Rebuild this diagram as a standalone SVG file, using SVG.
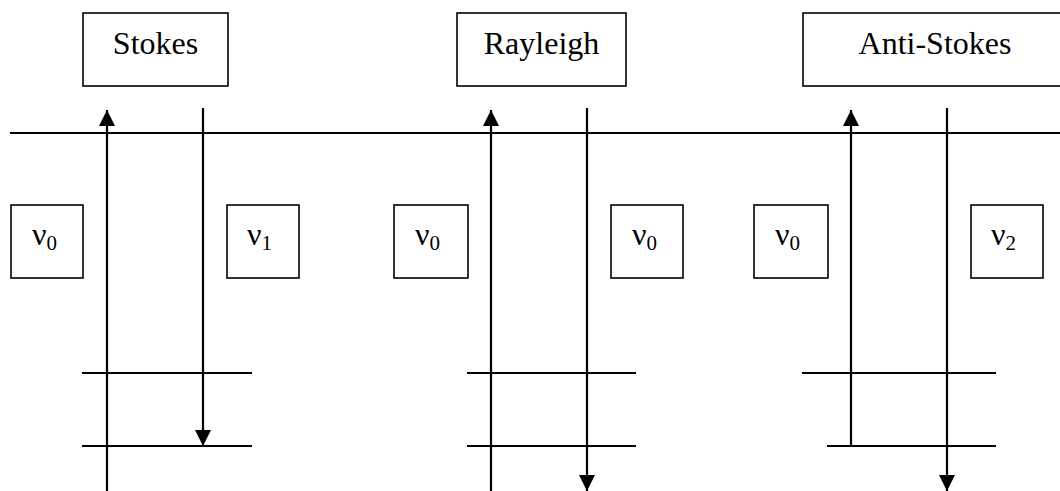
<svg xmlns="http://www.w3.org/2000/svg" width="1060" height="491" viewBox="0 0 1060 491">
  <style>
    .box { fill: #fff; stroke: #000; stroke-width: 1.6; }
    .title { font-family: "Liberation Serif", "Times New Roman", serif; font-size: 32px; fill: #000; text-anchor: middle; }
    .freq { font-family: "Liberation Serif", "Times New Roman", serif; font-size: 32px; fill: #000; }
    .sub { font-size: 21px; }
    .level { stroke: #000; stroke-width: 1.8; fill: none; }
    .ray { stroke: #000; stroke-width: 2.2; fill: none; }
  </style>
  <defs>
    <marker id="head" viewBox="0 0 16 16" refX="16" refY="8" markerWidth="16" markerHeight="16" markerUnits="userSpaceOnUse" orient="auto">
      <path d="M0,0 L16,8 L0,16 Z" fill="#000"/>
    </marker>
  </defs>

  <rect width="1060" height="491" fill="#fff"/>

  <!-- energy levels -->
  <g id="levels">
    <line class="level" x1="10" y1="133" x2="1060" y2="133"/>
    <line class="level" x1="82" y1="373" x2="252" y2="373"/>
    <line class="level" x1="82" y1="446" x2="252" y2="446"/>
    <line class="level" x1="467" y1="373" x2="636" y2="373"/>
    <line class="level" x1="467" y1="446" x2="636" y2="446"/>
    <line class="level" x1="802" y1="373" x2="996" y2="373"/>
    <line class="level" x1="827" y1="446" x2="996" y2="446"/>
  </g>

  <!-- transitions -->
  <g id="connectors">
    <line class="ray" x1="107" y1="491" x2="107" y2="110" marker-end="url(#head)"/>
    <line class="ray" x1="203" y1="108" x2="203" y2="446" marker-end="url(#head)"/>
    <line class="ray" x1="491" y1="491" x2="491" y2="110" marker-end="url(#head)"/>
    <line class="ray" x1="587" y1="108" x2="587" y2="491" marker-end="url(#head)"/>
    <line class="ray" x1="851" y1="446" x2="851" y2="110" marker-end="url(#head)"/>
    <line class="ray" x1="947" y1="108" x2="947" y2="491" marker-end="url(#head)"/>
  </g>

  <!-- scattering titles -->
  <g id="stokes">
    <rect class="box" x="83" y="13" width="145" height="73"/>
    <text class="title" x="155.5" y="54">Stokes</text>
  </g>
  <g id="rayleigh">
    <rect class="box" x="457" y="13" width="169" height="73"/>
    <text class="title" x="541.5" y="54">Rayleigh</text>
  </g>
  <g id="anti-stokes">
    <rect class="box" x="803" y="13" width="264" height="73"/>
    <text class="title" x="935" y="54">Anti-Stokes</text>
  </g>

  <!-- frequency labels -->
  <g id="stokes-in">
    <rect class="box" x="11" y="205" width="72" height="73"/>
    <text class="freq" x="32" y="245">ν<tspan class="sub" dy="5">0</tspan></text>
  </g>
  <g id="stokes-out">
    <rect class="box" x="227" y="205" width="72" height="73"/>
    <text class="freq" x="247" y="245">ν<tspan class="sub" dy="5">1</tspan></text>
  </g>
  <g id="rayleigh-in">
    <rect class="box" x="394" y="205" width="74" height="73"/>
    <text class="freq" x="415" y="245">ν<tspan class="sub" dy="5">0</tspan></text>
  </g>
  <g id="rayleigh-out">
    <rect class="box" x="611" y="205" width="72" height="73"/>
    <text class="freq" x="632" y="245">ν<tspan class="sub" dy="5">0</tspan></text>
  </g>
  <g id="anti-stokes-in">
    <rect class="box" x="754" y="205" width="74" height="73"/>
    <text class="freq" x="775" y="245">ν<tspan class="sub" dy="5">0</tspan></text>
  </g>
  <g id="anti-stokes-out">
    <rect class="box" x="971" y="205" width="72" height="73"/>
    <text class="freq" x="991" y="245">ν<tspan class="sub" dy="5">2</tspan></text>
  </g>
</svg>
